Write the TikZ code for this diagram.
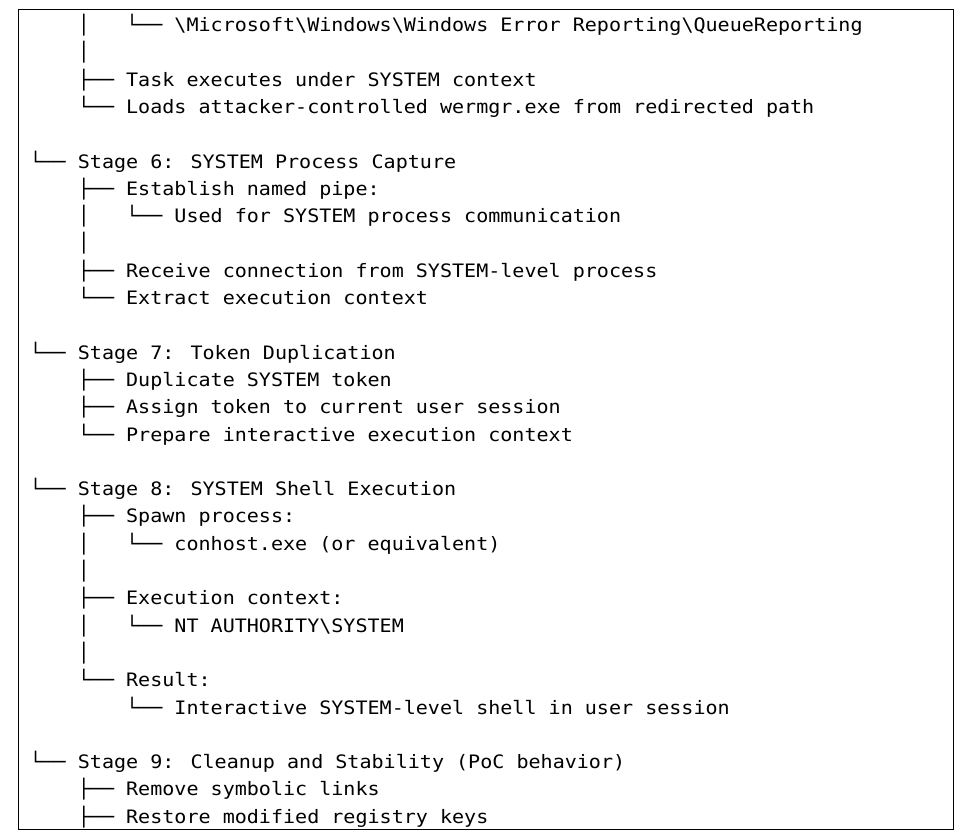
\documentclass[tikz,border=0pt]{standalone}
\usepackage{fontspec}
\usepackage{tikz}
\newfontfamily\codefont[FakeStretch=1.084]{DejaVu Sans Mono}
\tikzset{
  ln/.style={anchor=base west, inner sep=0pt, outer sep=0pt, font=\codefont\fontsize{18.5}{27.3}\selectfont},
  frame/.style={draw=black, line width=1pt},
}

\begin{document}
\begin{tikzpicture}[x=12.07pt, y=-27.3pt]
  \useasboundingbox (0pt,0pt) rectangle (974pt,-839pt);
  \draw[frame] (18.5pt,-9.7pt) rectangle (953pt,-829pt);
  \begin{scope}[shift={(29.6pt,-31.5pt)}]
  \node[ln] (queue) at (4,0) {│~~~└──~\textbackslash Microsoft\textbackslash Windows\textbackslash Windows Error Reporting\textbackslash QueueReporting};
  \node[ln] (bar1) at (4,1) {│};
  \node[ln] (task) at (4,2) {├──~Task executes under SYSTEM context};
  \node[ln] (loads) at (4,3) {└──~Loads attacker-controlled wermgr.exe from redirected path};
  \node[ln] (stage6) at (0,5) {└──~Stage 6: SYSTEM Process Capture};
  \node[ln] (pipe) at (4,6) {├──~Establish named pipe:};
  \node[ln] (comm) at (4,7) {│~~~└──~Used for SYSTEM process communication};
  \node[ln] (bar2) at (4,8) {│};
  \node[ln] (recv) at (4,9) {├──~Receive connection from SYSTEM-level process};
  \node[ln] (extract) at (4,10) {└──~Extract execution context};
  \node[ln] (stage7) at (0,12) {└──~Stage 7: Token Duplication};
  \node[ln] (dup) at (4,13) {├──~Duplicate SYSTEM token};
  \node[ln] (assign) at (4,14) {├──~Assign token to current user session};
  \node[ln] (prep) at (4,15) {└──~Prepare interactive execution context};
  \node[ln] (stage8) at (0,17) {└──~Stage 8: SYSTEM Shell Execution};
  \node[ln] (spawn) at (4,18) {├──~Spawn process:};
  \node[ln] (conhost) at (4,19) {│~~~└──~conhost.exe (or equivalent)};
  \node[ln] (bar3) at (4,20) {│};
  \node[ln] (ctx) at (4,21) {├──~Execution context:};
  \node[ln] (ntauth) at (4,22) {│~~~└──~NT AUTHORITY\textbackslash SYSTEM};
  \node[ln] (bar4) at (4,23) {│};
  \node[ln] (result) at (4,24) {└──~Result:};
  \node[ln] (shell) at (8,25) {└──~Interactive SYSTEM-level shell in user session};
  \node[ln] (stage9) at (0,27) {└──~Stage 9: Cleanup and Stability (PoC behavior)};
  \node[ln] (links) at (4,28) {├──~Remove symbolic links};
  \node[ln] (keys) at (4,29) {├──~Restore modified registry keys};
  \end{scope}
\end{tikzpicture}
\end{document}
